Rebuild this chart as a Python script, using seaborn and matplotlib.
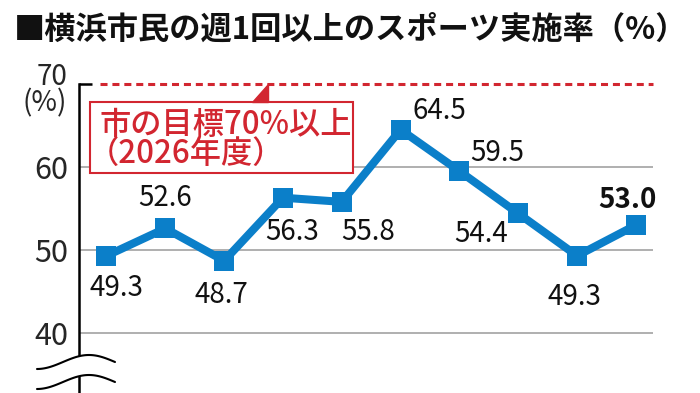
import numpy as np
import pandas as pd
import matplotlib
matplotlib.use("Agg")
import matplotlib.pyplot as plt
import seaborn as sns
from matplotlib.patches import Rectangle, Polygon

# data
rates = [49.3, 52.6, 48.7, 56.3, 55.8, 64.5, 59.5, 54.4, 49.3, 53.0]
surveys = list(range(len(rates)))
target = 70
yticks = [40, 50, 60]
title = "■横浜市民の週1回以上のスポーツ実施率（%）"
goal_text = ["市の目標70%以上", "（2026年度）"]

# where each value label sits relative to its point (points)
label_offsets = [(7, -23), (0, 22), (-2, -24.5), (6.5, -24.5), (19, -22),
                 (28, 13.5), (27, 13), (-27, -14.5), (-2, -29.5), (-6, 18)]

BLUE = "#0b7fc9"
RED = "#d22630"
W, H = 700, 393

sns.set_style("white")
plt.rcParams['font.family'] = ['Noto Sans CJK JP', 'DejaVu Sans']

df = pd.DataFrame({"survey": surveys, "rate": rates})

fig = plt.figure(figsize=(7, 3.93), dpi=100)
ax = fig.add_axes([79 / W, 0, 574 / W, (H - 84) / H])

def fx(px):
    return px / W

def fy(py):
    return 1 - py / H

sns.lineplot(data=df, x="survey", y="rate", ax=ax, color=BLUE, lw=5.8,
             marker="s", markersize=15, markeredgewidth=0, zorder=5)

ax.set_xlim(-0.467, 9.29)
ax.set_ylim(32.77, 70)
ax.set_xticks([])
ax.set_yticks(yticks)
ax.set_yticklabels([str(t) for t in yticks])
ax.tick_params(axis="y", length=0, pad=8, labelsize=22)
ax.set_xlabel("")
ax.set_ylabel("")
ax.grid(axis="y", color="#9a9a9a", lw=1.1)
ax.grid(axis="x", visible=False)
for s in ["top", "right", "bottom"]:
    ax.spines[s].set_visible(False)
ax.spines["left"].set_color("black")
ax.spines["left"].set_linewidth(1.8)

# top corner of the axis and the target line
x0 = ax.get_xlim()[0]
ax.plot([x0, x0 + 13 / 58.83], [target, target], color="black", lw=1.8,
        solid_capstyle="butt", clip_on=False)
ax.plot([-0.11, 9.29], [target, target], color=RED, lw=2.2,
        dashes=(2.3, 1.6), clip_on=False)

# target box
ax.add_patch(Rectangle((-0.28, 59.28), 4.47, 8.55, facecolor="white",
                       edgecolor=RED, lw=1.5, zorder=4))
ax.add_patch(Polygon([[2.47, 67.83], [2.745, 67.83], [2.745, 70]], closed=True,
                     color=RED, zorder=4, clip_on=False))
ax.text(-0.12, 65.06, goal_text[0], color=RED, fontsize=22.5, ha="left",
        va="center", zorder=6, fontweight="medium")
ax.text(-0.31, 61.6, goal_text[1], color=RED, fontsize=22.5, ha="left",
        va="center", zorder=6, fontweight="medium")

# value labels
for i, (v, off) in enumerate(zip(rates, label_offsets)):
    last = i == len(rates) - 1
    ax.annotate(f"{v:.1f}", (surveys[i], v), xytext=off, textcoords="offset points",
                ha="center", va="center", fontsize=20,
                fontweight="bold" if last else "normal", color="#111111", zorder=6)

# top tick label with unit underneath
fig.text(fx(67), fy(90), f"{target}\n(%)", fontsize=20, ha="right", va="center",
         multialignment="right", linespacing=0.85)

# axis break marks
xs = np.linspace(37, 115, 80)
t = np.linspace(-np.pi / 2, np.pi, 80)
w1 = 362 - 7 * np.sin(t)
w2 = w1 + 20
pts = np.column_stack([fx(np.r_[xs, xs[::-1]]), fy(np.r_[w1, w2[::-1]])])
fig.patches.append(Polygon(pts, closed=True, facecolor="white", edgecolor="none",
                           transform=fig.transFigure, zorder=10))
for w in (w1, w2):
    fig.lines.append(plt.Line2D(fx(xs), fy(w), color="black", lw=1.5,
                                transform=fig.transFigure, zorder=11))

# title
fig.text(fx(14), fy(30), title, fontsize=22.5, fontweight="bold", ha="left",
         va="center", color="#111111")

fig.savefig("out.png", dpi=100)
